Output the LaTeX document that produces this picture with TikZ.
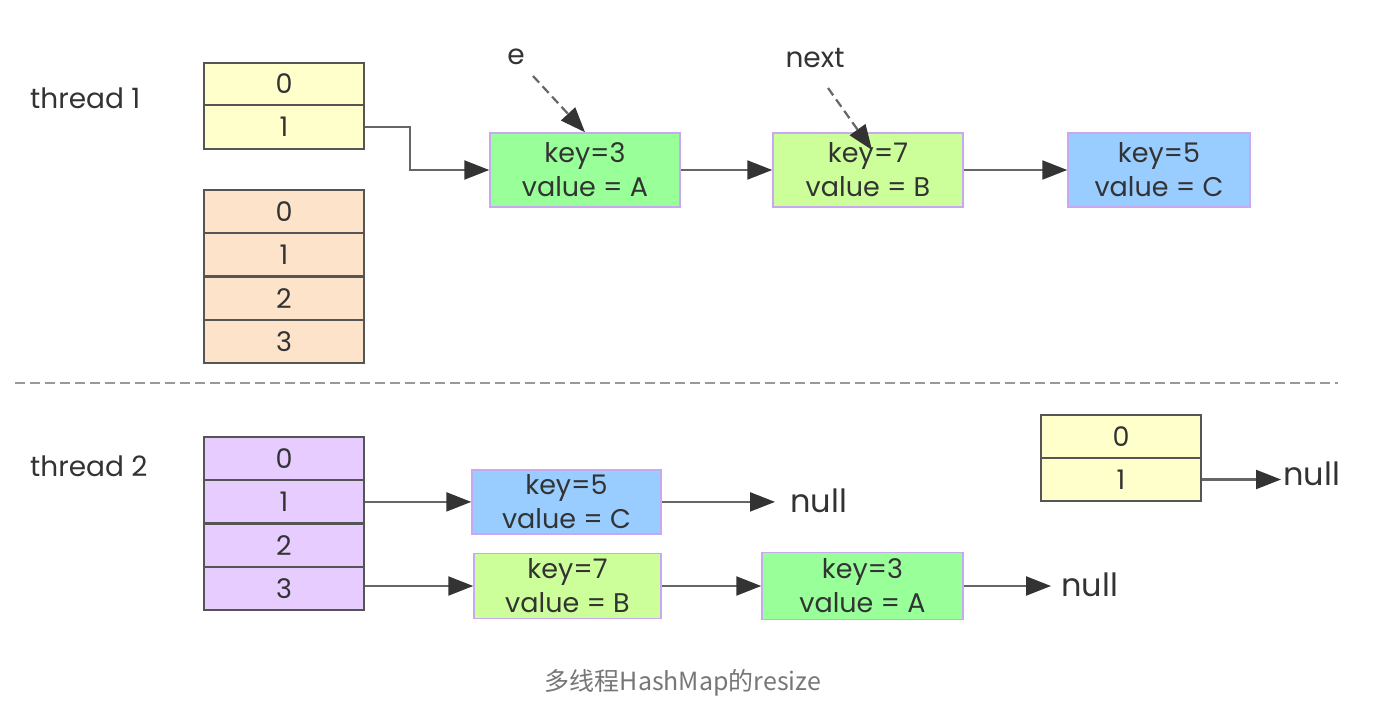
\documentclass[tikz,border=0pt]{standalone}
\usepackage{fontspec}
\setmainfont{Poppins}
\newfontfamily\cjk{Noto Sans CJK SC}
\usetikzlibrary{arrows.meta,calc}
\definecolor{ink}{HTML}{333333}
\definecolor{edge}{HTML}{555555}
\definecolor{wire}{HTML}{666666}
\definecolor{yel}{HTML}{FFFFCC}
\definecolor{peach}{HTML}{FDE3CA}
\definecolor{lilac}{HTML}{E6CCFF}
\definecolor{gA}{HTML}{99FF99}
\definecolor{gB}{HTML}{CCFF99}
\definecolor{bC}{HTML}{99CCFF}
\definecolor{nodeborder}{HTML}{C8A8F0}
\definecolor{captiongray}{HTML}{777777}
\tikzset{
  cell/.style={draw=edge, line width=2.2pt, rectangle, minimum width=160pt, minimum height=43.25pt, inner sep=0pt, text=ink, font=\fontsize{27}{30}\selectfont},
  entry/.style={draw=nodeborder, line width=1.5pt, rectangle, minimum width=190pt, minimum height=74pt, inner sep=0pt, align=center, text=ink, font=\fontsize{27}{34}\selectfont},
  label/.style={text=ink, inner sep=0pt, font=\fontsize{28}{30}\selectfont},
  nulltext/.style={text=ink, inner sep=0pt, anchor=west, font=\fontsize{32}{36}\selectfont},
  link/.style={draw=wire, line width=2.2pt, -{Triangle[length=25pt,width=19pt,color=ink]}},
  pointer/.style={draw=wire, line width=2.2pt, dash pattern=on 9pt off 5pt, -{Triangle[length=25pt,width=19pt,color=ink]}},
}
\begin{document}
\begin{tikzpicture}[x=1pt,y=-1pt]
\useasboundingbox[fill=white] (0,0) rectangle (1396,722);

% ---------- thread 1 ----------
\node[label, anchor=west] (t1) at (30,98) {thread 1};
\node[cell, fill=yel, minimum height=42pt] (ya0) at (284,84) {0};
\node[cell, fill=yel, minimum height=44pt] (ya1) at (284,127) {1};

\node[cell, fill=peach] (o0) at (284,211.6) {0};
\node[cell, fill=peach] (o1) at (284,254.9) {1};
\node[cell, fill=peach] (o2) at (284,298.1) {2};
\node[cell, fill=peach] (o3) at (284,341.4) {3};

\node[entry, fill=gA] (A) at (585,170) {key=3\\value = A};
\node[entry, fill=gB] (B) at (868,170) {key=7\\value = B};
\node[entry, fill=bC, minimum width=182pt] (C) at (1159,170) {key=5\\value = C};

\node[label] (e) at (516,57) {e};
\node[label] (nx) at (815,58) {next};
\coordinate (Bpt) at (872,150);

\draw[link] (ya1.east) -- (410,127) |- (A.west);
\draw[link] (A.east) -- (B.west);
\draw[link] (B.east) -- (C.west);
\draw[pointer] (533,76) -- (A.north);
\draw[pointer] (828,88) -- (Bpt);

% ---------- separator ----------
\draw[draw=black!40, line width=2.5pt, dash pattern=on 10pt off 5pt] (15,383) -- (1338,383);

% ---------- thread 2 ----------
\node[label, anchor=west] (t2) at (30,466) {thread 2};
\node[cell, fill=lilac] (p0) at (284,458.6) {0};
\node[cell, fill=lilac] (p1) at (284,501.9) {1};
\node[cell, fill=lilac] (p2) at (284,545.1) {2};
\node[cell, fill=lilac] (p3) at (284,588.4) {3};

\node[entry, fill=bC, minimum width=189pt, minimum height=64pt] (C2) at (566.5,501.9) {key=5\\value = C};
\node[entry, fill=gB, minimum width=187pt, minimum height=65pt] (B2) at (567.5,586) {key=7\\value = B};
\node[entry, fill=gA, minimum width=201pt, minimum height=67pt] (A2) at (862.5,586) {key=3\\value = A};

\node[nulltext] (n1) at (790,501) {null};
\node[nulltext] (n2) at (1061,585) {null};
\coordinate (n1in) at (775,501.9);
\coordinate (n2in) at (1051,586);

\draw[link] (p1.east) -- (C2.west);
\draw[link] (C2.east) -- (n1in);
\draw[link] (p3.east |- B2.west) -- (B2.west);
\draw[link] (B2.east) -- (A2.west);
\draw[link] (A2.east) -- (n2in);

\node[cell, fill=yel] (r0) at (1121,436.5) {0};
\node[cell, fill=yel] (r1) at (1121,479.5) {1};
\node[nulltext] (n3) at (1283,474) {null};
\coordinate (n3in) at (1281,479.5);
\draw[link] (r1.east) -- (n3in);

% ---------- caption ----------
\node[text=captiongray, inner sep=0pt, font=\fontsize{25}{28}\selectfont] (cap) at (683,683) {\cjk 多线程HashMap的resize};
\end{tikzpicture}
\end{document}
